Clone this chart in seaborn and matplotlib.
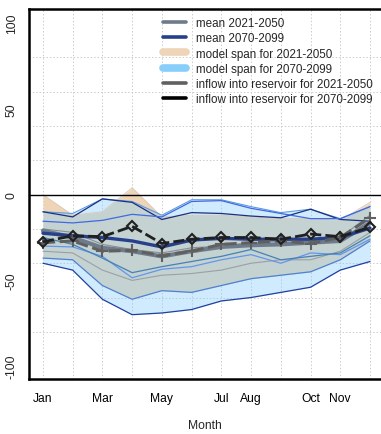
import matplotlib
matplotlib.use("Agg")
import matplotlib.pyplot as plt
import seaborn as sns
import numpy as np
import pandas as pd
from matplotlib.lines import Line2D

# monthly change in inflow (%)
months = ["Jan", "Feb", "Mar", "Apr", "May", "Jun", "Jul", "Aug", "Sep", "Oct", "Nov", "Dec"]
shown = ["Jan", "", "Mar", "", "May", "", "Jul", "Aug", "", "Oct", "Nov", ""]
month_num = list(range(1, 13))

span_2021_upper = [0, -12, -10, 4, -13, -12, -12, -13, -14, -14, -15, -4.5]
span_2021_lower = [-37, -38, -53, -61, -56, -57, -53, -49, -47, -45, -38, -27]
span_2070_upper = [-10, -11, -2.5, -4, -12, -3, -3, -7, -10.5, -8.5, -14, -7]
span_2070_lower = [-40, -44, -61, -70, -69, -67, -62, -60, -57, -54, -44, -39]

mean_2021 = [-21, -25, -31, -33, -36, -33, -30.5, -29.5, -29, -28, -27, -16.5]
mean_2070 = [-22.5, -24, -25, -27, -30.5, -26.5, -25.5, -26, -26, -26, -25, -19.5]
inflow_2021 = [-28, -27, -33, -32.5, -35.5, -33, -29, -28, -27, -28.5, -25, -13.5]
inflow_2070 = [-27.5, -24, -24.5, -18.5, -28.5, -26, -25, -25, -26, -23, -24.5, -19]

# single models
models_2070 = {
    "#1a2f80": [-10, -13, -2.5, -4.5, -14.5, -10.5, -11, -12.5, -13.5, -8.5, -14.5, -15.5],
    "#4169e1": [-15.5, -16.5, -15, -11.5, -13, -4, -3.5, -8, -11, -14, -14, -7],
    "#6495ed": [-30, -30.5, -36, -48.5, -43.5, -42, -38, -35, -40, -34, -35, -26],
    "#4682b4": [-25, -29, -37, -45.5, -42, -39, -36, -32, -38, -36, -34, -24],
    "#2040a0": [-40, -44, -61, -70, -69, -67, -62, -60, -57, -54, -44, -39],
    "#5080d0": [-37, -38, -53, -61, -56, -57, -53, -49, -47, -45, -38, -27],
}
models_2021 = {
    "#8a8f94": [-20, -22, -29, -32, -34, -31, -30, -28, -27, -27, -25, -12],
    "#9aa0a5": [-33, -34, -44, -50, -47, -46, -44, -40, -38, -38, -33, -22],
}

df = pd.DataFrame({"month": month_num, "mean_2021": mean_2021, "mean_2070": mean_2070,
                   "inflow_2021": inflow_2021, "inflow_2070": inflow_2070})

sns.set_style("white")
plt.rcParams["font.family"] = ["Liberation Sans", "DejaVu Sans"]
plt.rcParams["font.size"] = 8.7

fig = plt.figure(figsize=(3.81, 4.35), dpi=100)
ax = fig.add_axes([0.076, 0.126, 0.924, 0.851])

ax.fill_between(month_num, span_2021_lower, span_2021_upper, color="#eed5b7", lw=0, zorder=1)
ax.fill_between(month_num, span_2070_lower, span_2070_upper, color="#87cefa", alpha=0.4, lw=0, zorder=2)
ax.plot(month_num, span_2021_upper, color="#d8c4b0", lw=0.6, zorder=2)
ax.plot(month_num, span_2070_upper, color="#5a9ae0", lw=0.8, zorder=3)

for c, vals in models_2021.items():
    sns.lineplot(x=month_num, y=vals, color=c, lw=0.8, ax=ax, zorder=3)
for c, vals in models_2070.items():
    sns.lineplot(x=month_num, y=vals, color=c, lw=0.9, ax=ax, zorder=3)

sns.lineplot(data=df, x="month", y="mean_2021", color="#6e7b8b", lw=3, ax=ax, zorder=4)
sns.lineplot(data=df, x="month", y="mean_2070", color="#27408b", lw=2.4, ax=ax, zorder=4)
sns.lineplot(data=df, x="month", y="inflow_2021", color="#606060", lw=2.2, ax=ax, zorder=5,
             linestyle=(0, (4, 1.5)), marker="+", markersize=8, markeredgewidth=1.5,
             markeredgecolor="#606060")
sns.lineplot(data=df, x="month", y="inflow_2070", color="#202020", lw=2.0, ax=ax, zorder=6,
             linestyle=(0, (4, 1.5)), marker="D", markersize=5.5, markerfacecolor="none",
             markeredgewidth=1.5, markeredgecolor="#202020")

ax.axhline(0, color="black", lw=1, zorder=7)

ax.set_xlim(0.53, 12.37)
ax.set_ylim(-107.6, 108.2)
ax.set_xticks(month_num)
ax.set_xticklabels(shown)
ax.set_yticks([-100, -50, 0, 50, 100])
ax.set_yticklabels(["-100", "-50", "0", "50", "100"], rotation=90, va="center")
ax.set_yticks(np.arange(-100, 101, 20), minor=True)
ax.tick_params(axis="x", length=6, width=1, direction="out", pad=3, labelsize=8.7, colors="black")
ax.tick_params(axis="y", which="major", length=5, width=1, direction="out", pad=3, labelsize=8.7)
ax.tick_params(axis="y", which="minor", length=0)
ax.grid(True, axis="x", which="major", color="#cccccc", lw=0.7, ls=(0, (1.5, 2)))
ax.grid(True, axis="y", which="minor", color="#cccccc", lw=0.7, ls=(0, (1.5, 2)))
ax.grid(False, axis="y", which="major")
ax.set_axisbelow(True)
for s in ["left", "bottom", "top"]:
    ax.spines[s].set_linewidth(1.8)
    ax.spines[s].set_color("black")
ax.spines["right"].set_visible(False)
ax.set_xlabel("Month", fontsize=8.7)
ax.xaxis.set_label_coords(0.5, -0.108)
ax.set_ylabel("")

handles = [
    Line2D([], [], color="#6e7b8b", lw=2.6),
    Line2D([], [], color="#27408b", lw=2.6),
    Line2D([], [], color="#eed5b7", lw=5.5, solid_capstyle="round"),
    Line2D([], [], color="#87cefa", lw=5.5, solid_capstyle="round"),
    Line2D([], [], color="#606060", lw=2.6),
    Line2D([], [], color="black", lw=2.6),
]
labels = ["mean 2021-2050", "mean 2070-2099", "model span for 2021-2050",
          "model span for 2070-2099", "inflow into reservoir for 2021-2050",
          "inflow into reservoir for 2070-2099"]
fig.legend(handles, labels, loc="upper left", bbox_to_anchor=(0.428, 0.958), frameon=False,
           handlelength=2.0, handletextpad=0.8, labelspacing=0.27, borderpad=0, borderaxespad=0,
           fontsize=8.4)

fig.savefig("out.png", dpi=100)
